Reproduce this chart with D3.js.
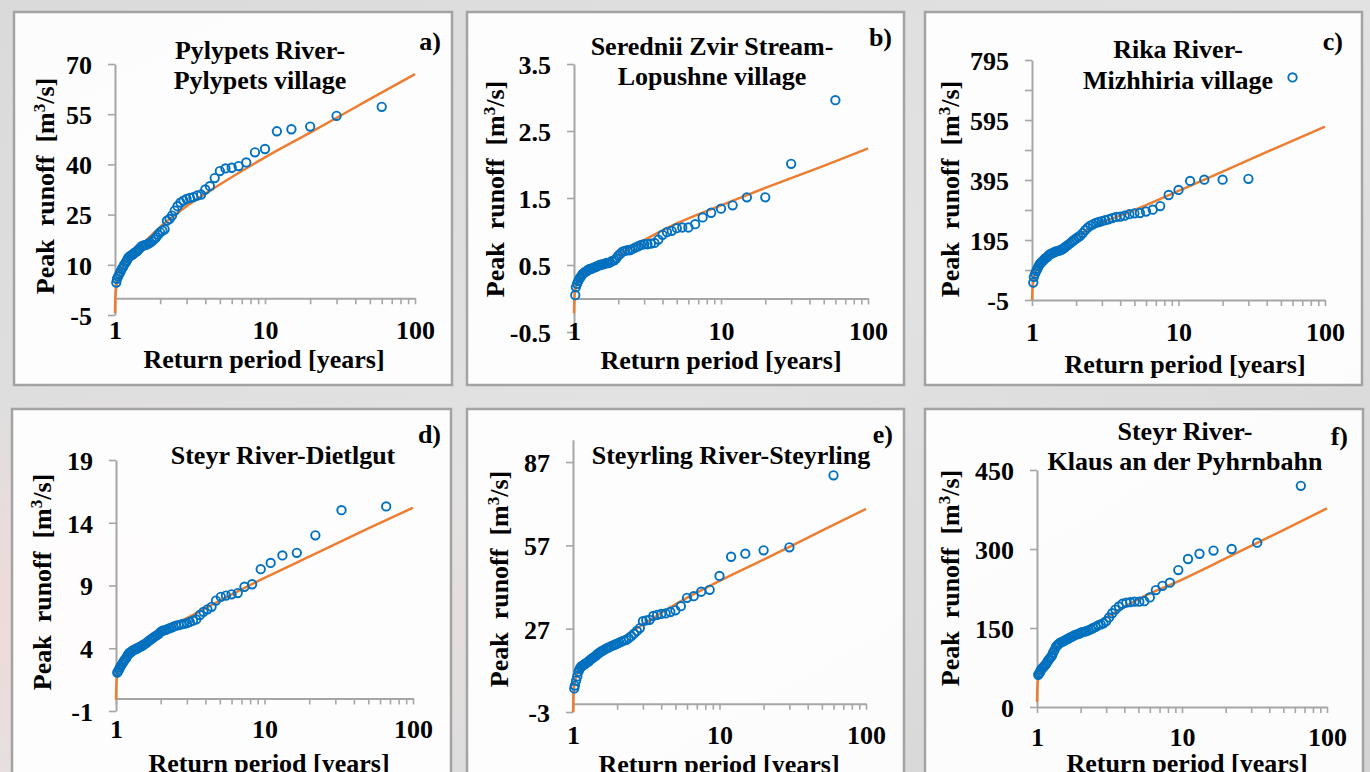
<!DOCTYPE html>
<html>
<head>
<meta charset="utf-8">
<script src="https://d3js.org/d3.v7.min.js"></script>
<style>
  body { margin:0; overflow:hidden; }
  svg text { font-family: "Liberation Serif", "Times New Roman", serif; font-weight: bold; fill: #000; }
</style>
</head>
<body>
<script>
// plotting positions (return periods, years) for the two record lengths
var returnPeriods59 = [60, 30, 20, 15, 12, 10, 8.57, 7.5, 6.67, 6, 5.45, 5, 4.62, 4.29, 4, 3.75, 3.53, 3.33, 3.16, 3,
    2.86, 2.73, 2.61, 2.5, 2.4, 2.31, 2.22, 2.14, 2.07, 2, 1.94, 1.88, 1.82, 1.76, 1.71, 1.67, 1.62, 1.58, 1.54, 1.5,
    1.46, 1.43, 1.4, 1.36, 1.33, 1.3, 1.28, 1.25, 1.22, 1.2, 1.18, 1.15, 1.13, 1.11, 1.09, 1.07, 1.05, 1.03, 1.02];
var returnPeriods65 = [66, 33, 22, 16.5, 13.2, 11, 9.43, 8.25, 7.33, 6.6, 6, 5.5, 5.08, 4.71, 4.4, 4.13, 3.88, 3.67, 3.47, 3.3,
    3.14, 3, 2.87, 2.75, 2.64, 2.54, 2.44, 2.36, 2.28, 2.2, 2.13, 2.06, 2, 1.94, 1.89, 1.83, 1.78, 1.74, 1.69, 1.65,
    1.61, 1.57, 1.53, 1.5, 1.47, 1.43, 1.4, 1.38, 1.35, 1.32, 1.29, 1.27, 1.25, 1.22, 1.2, 1.18, 1.16, 1.14, 1.12, 1.1,
    1.08, 1.06, 1.05, 1.03, 1.02];

// observed peak runoff, m3/s, ranked
var pylypetsPeak = [57.2, 54.5, 51.3, 50.5, 49.9, 44.6, 43.6, 40.6, 39.5, 39.0, 38.8, 38.0, 35.9, 33.5, 32.5, 31.0, 30.7, 30.2, 30.0, 29.7,
    29.2, 28.6, 27.5, 26.2, 24.7, 23.7, 23.2, 20.6, 20.2, 19.7, 19.0, 18.2, 17.6, 17.0, 16.6, 16.3, 16.0, 15.9, 15.7, 15.5,
    14.9, 14.5, 14.0, 13.7, 13.3, 13.0, 12.8, 12.5, 12.0, 11.3, 10.7, 10.0, 9.3, 8.8, 8.0, 7.3, 6.5, 5.8, 4.7];
var zvirPeak = [2.96, 2.01, 1.51, 1.51, 1.39, 1.34, 1.28, 1.21, 1.11, 1.06, 1.06, 1.05, 1.01, 0.99, 0.95, 0.88, 0.83, 0.82, 0.81, 0.81,
    0.80, 0.78, 0.76, 0.74, 0.72, 0.72, 0.71, 0.70, 0.67, 0.64, 0.60, 0.57, 0.56, 0.54, 0.53, 0.53, 0.52, 0.51, 0.51, 0.50,
    0.49, 0.48, 0.47, 0.46, 0.45, 0.44, 0.44, 0.43, 0.41, 0.40, 0.39, 0.37, 0.35, 0.32, 0.30, 0.26, 0.22, 0.17, 0.05];
var rikaPeak = [737, 399, 396, 396, 392, 362, 345, 308, 296, 290, 285, 284, 281, 276, 273, 272, 268, 264, 261, 258,
    255, 252, 247, 243, 236, 228, 218, 210, 205, 200, 195, 190, 184, 179, 174, 170, 165, 162, 160, 159,
    157, 155, 153, 150, 148, 144, 140, 136, 132, 128, 124, 119, 115, 108, 100, 92, 83, 72, 53];
var dietlgutPeak = [15.3, 15.0, 13.0, 11.6, 11.4, 10.8, 10.3, 9.1, 8.9, 8.4, 8.3, 8.2, 8.1, 7.8, 7.3, 7.1, 6.9, 6.65, 6.3, 6.2,
    6.1, 6.0, 5.95, 5.9, 5.85, 5.8, 5.72, 5.65, 5.58, 5.5, 5.45, 5.4, 5.3, 5.15, 5.05, 4.95, 4.85, 4.75, 4.65, 4.55,
    4.45, 4.35, 4.28, 4.2, 4.15, 4.08, 4.02, 3.97, 3.92, 3.87, 3.8, 3.72, 3.65, 3.6, 3.45, 3.3, 3.15, 3.05, 2.9, 2.75,
    2.6, 2.45, 2.3, 2.15, 2.05];
var steyrlingPeak = [82.2, 56.3, 55.2, 54.0, 52.9, 46.0, 41.0, 40.3, 38.7, 38.1, 35.1, 33.6, 33.0, 32.5, 32.3, 32.0, 31.6, 30.2, 30.0, 29.7,
    27.2, 26.2, 25.2, 24.3, 23.6, 23.0, 22.7, 22.3, 22.0, 21.6, 21.3, 21.0, 20.7, 20.3, 20.0, 19.7, 19.3, 19.0, 18.6, 18.2,
    17.7, 17.2, 16.9, 16.4, 16.0, 15.6, 15.2, 14.9, 14.5, 14.2, 13.9, 13.6, 13.2, 12.5, 11.5, 9.8, 8.3, 6.5, 5.5];
var klausPeak = [420, 312, 300, 297, 291, 281, 260, 236, 230, 222, 208, 201, 200, 200, 199, 198, 196, 191, 185, 178,
    170, 163, 159, 157, 155, 152, 150, 148, 146, 144, 143, 142, 141, 139, 138, 137, 135, 133, 132, 130,
    129, 127, 125, 124, 123, 121, 119, 117, 114, 108, 103, 98, 95, 92, 89, 86, 82, 80, 77, 75,
    73, 70, 66, 63, 61];

// fitted distribution curves, read at these return periods
var fitPeriods = [1.001, 1.005, 1.02, 1.05, 1.1, 1.2, 1.5, 2, 3, 5, 10, 20, 50, 100];
var pylypetsFit = [-4.4, 0, 3.2, 6, 8.5, 11.5, 15.8, 21.3, 27.5, 34.0, 42.1, 49.5, 59.5, 67.0];
var zvirFit = [-0.22, 0.0, 0.13, 0.25, 0.33, 0.41, 0.51, 0.65, 0.87, 1.12, 1.39, 1.65, 1.98, 2.24];
var rikaFit = [-5, 20, 55, 82, 105, 127, 162, 205, 252, 295, 359, 423, 509, 573];
var dietlgutFit = [-0.1, 1.0, 1.9, 2.5, 3.0, 3.5, 4.3, 5.4, 6.4, 7.8, 9.6, 11.3, 13.55, 15.2];
var steyrlingFit = [-3, 2, 6.5, 9.5, 12, 14.5, 18.5, 22.5, 28.5, 35.8, 44.2, 51.9, 62.3, 70.1];
var klausFit = [10, 35, 55, 68, 80, 95, 122, 143, 170, 205, 242, 282, 336, 377];

// axis ticks
var xTickValues = [1, 2, 3, 4, 5, 6, 7, 8, 9, 10, 20, 30, 40, 50, 60, 70, 80, 90, 100];
var xLabelValues = [1, 10, 100];
var pylypetsTicks = [-5, 10, 25, 40, 55, 70];
var zvirTicks = [-0.5, 0.5, 1.5, 2.5, 3.5];
var rikaTicks = [-5, 195, 395, 595, 795];
var rikaMinorTicks = [95, 295, 495, 695];
var dietlgutTicks = [-1, 4, 9, 14, 19];
var steyrlingTicks = [-3, 27, 57, 87];
var klausTicks = [0, 150, 300, 450];

var panels = [
    {tag: "a)", title: ["Pylypets River-", "Pylypets village"], T: returnPeriods59, Q: pylypetsPeak, fit: pylypetsFit,
     ticks: pylypetsTicks, yMax: 70, cross: 0, box: [14, 12, 438, 373], xr: [115, 415], yr: [315, 64],
     titleX: 260, titleY: [59, 89], tagX: 441, tagY: 50, yTitle: [45, 186], xLabY: 330, xTitle: [264, 368]},
    {tag: "b)", title: ["Serednii Zvir Stream-", "Lopushne village"], T: returnPeriods59, Q: zvirPeak, fit: zvirFit,
     ticks: zvirTicks, yMax: 3.5, cross: 0, box: [467, 12, 437, 373], xr: [574, 868], yr: [332, 64],
     titleX: 712, titleY: [55, 85], tagX: 892, tagY: 46, yTitle: [495, 189], xLabY: 331, xTitle: [721, 369], fmt: d3.format(".1f")},
    {tag: "c)", title: ["Rika River-", "Mizhhiria village"], T: returnPeriods59, Q: rikaPeak, fit: rikaFit,
     ticks: rikaTicks, minor: rikaMinorTicks, yMax: 795, cross: -5, box: [925, 12, 437, 373], xr: [1032, 1325], yr: [300, 60],
     titleX: 1178, titleY: [58, 89], tagX: 1343, tagY: 50, yTitle: [950, 189], xLabY: 332, xTitle: [1185, 373]},
    {tag: "d)", title: ["Steyr River-Dietlgut"], T: returnPeriods65, Q: dietlgutPeak, fit: dietlgutFit,
     ticks: dietlgutTicks, yMax: 19, cross: 0, box: [12, 409, 439, 400], xr: [116, 413], yr: [711, 460],
     titleX: 283, titleY: [464], tagX: 441, tagY: 443, yTitle: [42, 582], xLabY: 729, xTitle: [269, 772]},
    {tag: "e)", title: ["Steyrling River-Steyrling"], T: returnPeriods59, Q: steyrlingPeak, fit: steyrlingFit,
     ticks: steyrlingTicks, yMax: 95, cross: 0, box: [467, 409, 437, 400], xr: [573, 866], yr: [712, 439.8],
     titleX: 731, titleY: [464], tagX: 893, tagY: 443, yTitle: [499, 579], xLabY: 735, xTitle: [719, 773]},
    {tag: "f)", title: ["Steyr River-", "Klaus an der Pyhrnbahn"], T: returnPeriods65, Q: klausPeak, fit: klausFit,
     ticks: klausTicks, yMax: 450, cross: 0, box: [925, 409, 438, 400], xr: [1037, 1327], yr: [707, 470],
     titleX: 1185, titleY: [440, 470], tagX: 1348, tagY: 445, yTitle: [950, 578], xLabY: 737, xTitle: [1187, 772]}
];

var width = 1370, height = 772;
var axisColor = "#a6a6a6";

var svg = d3.select("body").append("svg")
    .attr("width", width)
    .attr("height", height);

// background: light grey with a faint pink wash in the lower left
var defs = svg.append("defs");
var bg = defs.append("linearGradient").attr("id", "bg")
    .attr("x1", 0).attr("y1", 0).attr("x2", 1).attr("y2", 1);
bg.append("stop").attr("offset", "0%").attr("stop-color", "#dadada");
bg.append("stop").attr("offset", "50%").attr("stop-color", "#e2e2e2");
bg.append("stop").attr("offset", "100%").attr("stop-color", "#d4d4d4");
var pink = defs.append("radialGradient").attr("id", "pink")
    .attr("cx", 0.1).attr("cy", 0.8).attr("r", 0.3);
pink.append("stop").attr("offset", "0%").attr("stop-color", "#f4d8d8").attr("stop-opacity", 0.9);
pink.append("stop").attr("offset", "100%").attr("stop-color", "#f4d8d8").attr("stop-opacity", 0);

svg.append("rect").attr("width", width).attr("height", height).attr("fill", "url(#bg)");
svg.append("rect").attr("width", width).attr("height", height).attr("fill", "url(#pink)");

function styleAxis(g, w) {
    g.selectAll(".domain").attr("stroke", axisColor).attr("stroke-width", w || 2);
    g.selectAll(".tick line").attr("stroke", axisColor).attr("stroke-width", 1.6);
    g.selectAll("text").attr("font-family", null).attr("font-size", 26).attr("fill", "#000");
    g.attr("font-family", null).attr("font-size", null);
}

panels.forEach(function (p) {
    var g = svg.append("g");

    g.append("rect")
        .attr("x", p.box[0]).attr("y", p.box[1])
        .attr("width", p.box[2]).attr("height", p.box[3])
        .attr("fill", "#fff").attr("fill-opacity", 0.92)
        .attr("stroke", "#a3a3a3").attr("stroke-width", 2.5);

    var x = d3.scaleLog().domain([1, 100]).range(p.xr);
    var y = d3.scaleLinear().domain([p.ticks[0], p.yMax]).range(p.yr);
    var fmt = p.fmt || function (d) { return String(d); };

    // y axis
    var yAxis = d3.axisLeft(y).tickValues(p.ticks).tickSize(7).tickSizeOuter(0).tickPadding(16)
        .tickFormat(function (d) { return fmt(d).replace("\u2212", "-"); });
    var ya = g.append("g").attr("transform", "translate(" + p.xr[0] + ",0)").call(yAxis);
    ya.selectAll("text").attr("dy", "0.36em");
    styleAxis(ya);
    if (p.minor) {
        var ym = g.append("g").attr("transform", "translate(" + p.xr[0] + ",0)")
            .call(d3.axisLeft(y).tickValues(p.minor).tickSize(7).tickFormat(""));
        ym.select(".domain").remove();
        styleAxis(ym);
    }

    // x axis line with log ticks
    var xa = g.append("g").attr("transform", "translate(0," + y(p.cross) + ")")
        .call(d3.axisBottom(x).tickValues(xTickValues).tickSize(6).tickSizeOuter(0).tickFormat(""));
    styleAxis(xa);

    // x tick labels sit below the plot
    var xl = g.append("g").attr("transform", "translate(0," + p.xLabY + ")")
        .call(d3.axisBottom(x).tickValues(xLabelValues).tickSize(0).tickPadding(0).tickFormat(d3.format("d")));
    xl.select(".domain").remove();
    xl.selectAll("text").attr("y", 0).attr("dy", "0.36em");
    styleAxis(xl);

    // fitted curve
    var line = d3.line()
        .x(function (d, i) { return x(fitPeriods[i]); })
        .y(function (d) { return y(d); })
        .curve(d3.curveMonotoneX);
    g.append("path")
        .datum(p.fit)
        .attr("d", line)
        .attr("fill", "none")
        .attr("stroke", "#ed7d31")
        .attr("stroke-width", 2.5);

    // observed points
    g.selectAll("circle.obs")
        .data(p.Q)
        .enter().append("circle")
        .attr("class", "obs")
        .attr("cx", function (d, i) { return x(p.T[i]); })
        .attr("cy", function (d) { return y(d); })
        .attr("r", 4.2)
        .attr("fill", "none")
        .attr("stroke", "#0070c0")
        .attr("stroke-width", 1.9);

    // title
    p.title.forEach(function (t, i) {
        g.append("text")
            .attr("x", p.titleX).attr("y", p.titleY[i])
            .attr("text-anchor", "middle")
            .attr("font-size", 26)
            .text(t);
    });

    g.append("text")
        .attr("x", p.tagX).attr("y", p.tagY)
        .attr("text-anchor", "end")
        .attr("font-size", 26)
        .text(p.tag);

    // y title
    var yt = g.append("text")
        .attr("transform", "translate(" + p.yTitle[0] + "," + p.yTitle[1] + ") rotate(-90)")
        .attr("text-anchor", "middle")
        .attr("dy", "0.35em")
        .attr("font-size", 26)
        .style("white-space", "pre");
    yt.append("tspan").text("Peak  runoff  [m");
    yt.append("tspan").attr("dy", -9).attr("font-size", 17).text("3");
    yt.append("tspan").attr("dy", 9).text("/s]");

    // x title
    g.append("text")
        .attr("x", p.xTitle[0]).attr("y", p.xTitle[1])
        .attr("text-anchor", "middle")
        .attr("font-size", 26)
        .text("Return period [years]");
});
</script>
</body>
</html>
